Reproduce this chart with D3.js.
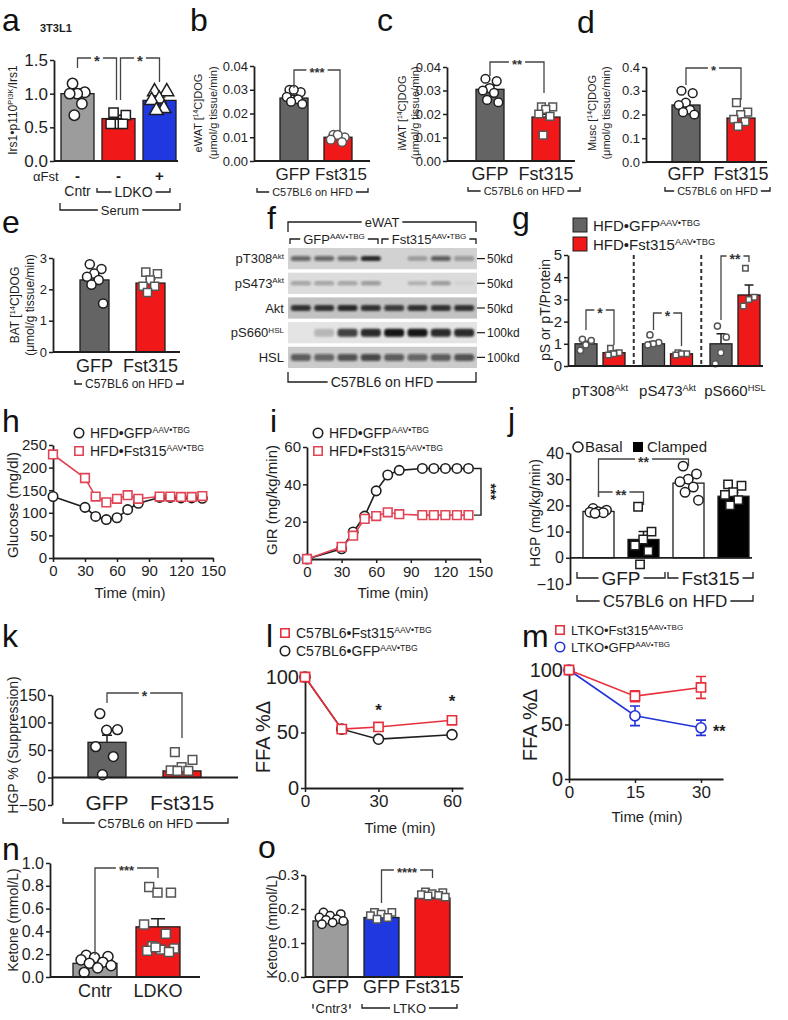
<!DOCTYPE html>
<html><head><meta charset="utf-8">
<script src="https://cdn.jsdelivr.net/npm/d3@7"></script>
<style>body{margin:0;background:#fff}svg{display:block}</style>
</head><body>
<script>
// ---------------- DATA ----------------
// a
const aCats = ["Cntr", "LDKO", "LDKO+αFst"];
const aFstRow = ["-", "-", "+"];
const aMeans = [1.0, 0.63, 0.90];
const aSems = [0.07, 0.05, 0.05];
const aPts = [[1.15, 1.02, 1.0, 1.0, 0.85, 0.68], [0.72, 0.68, 0.55, 0.55, 0.55], [1.03, 1.03, 0.92, 0.9, 0.78, 0.75]];
const aTicks = [0, 0.5, 1.0, 1.5];
// b, c, d, e
const gfpFst = ["GFP", "Fst315"];
const bMeans = [0.0265, 0.0100];
const bSems = [0.0012, 0.0008];
const bPts = [[0.030, 0.029, 0.030, 0.027, 0.026, 0.025, 0.024], [0.011, 0.010, 0.011, 0.009, 0.008]];
const bTicks = [0, 0.01, 0.02, 0.03, 0.04];
const cMeans = [0.0305, 0.0187];
const cSems = [0.0015, 0.0012];
const cPts = [[0.035, 0.034, 0.031, 0.030, 0.029, 0.026, 0.025], [0.023, 0.023, 0.022, 0.020, 0.019, 0.011]];
const cTicks = [0, 0.01, 0.02, 0.03, 0.04];
const dMeans = [0.24, 0.185];
const dSems = [0.015, 0.013];
const dPts = [[0.30, 0.29, 0.25, 0.24, 0.22, 0.21, 0.20], [0.25, 0.21, 0.20, 0.18, 0.17, 0.15]];
const dTicks = [0, 0.1, 0.2, 0.3, 0.4];
const eMeans = [2.3, 2.2];
const eSems = [0.15, 0.12];
const ePts = [[2.8, 2.65, 2.5, 2.4, 2.3, 2.15, 1.55], [2.55, 2.5, 2.3, 2.1, 2.1, 1.9]];
const eTicks = [0, 1, 2, 3];
// f (western blot)
const fRows = ["pT308{Akt}", "pS473{Akt}", "Akt", "pS660{HSL}", "HSL"];
const fMarkers = ["50kd", "50kd", "50kd", "100kd", "100kd"];
const fLanes = ["GFP1", "GFP2", "GFP3", "GFP4", "Fst1", "Fst2", "Fst3", "Fst4"];
const fIntensity = [
  [0.55, 0.55, 0.5, 0.9, 0.0, 0.25, 0.6, 0.3],
  [0.3, 0.3, 0.3, 0.35, 0.0, 0.2, 0.35, 0.05],
  [0.85, 0.85, 0.9, 0.85, 0.8, 0.85, 0.85, 0.85],
  [0.0, 0.2, 0.8, 0.9, 1.0, 1.0, 0.9, 0.9],
  [0.6, 0.55, 0.65, 0.7, 0.6, 0.55, 0.6, 0.65]
];
// g
const gGroups = ["pT308{Akt}", "pS473{Akt}", "pS660{HSL}"];
const gSeries = ["HFD•GFP{AAV•TBG}", "HFD•Fst315{AAV•TBG}"];
const gMeans = [[1.0, 0.6], [1.0, 0.55], [1.0, 3.2]];
const gSems = [[0.12, 0.1], [0.1, 0.08], [0.45, 0.45]];
const gPts = [[[1.2, 1.15, 0.95, 0.7], [0.8, 0.6, 0.55, 0.5]], [[1.4, 1.05, 1.0, 0.95], [0.6, 0.55, 0.55, 0.5]], [[1.8, 1.3, 0.6, 0.1], [4.4, 3.1, 3.0, 2.7]]];
const gTicks = [0, 1, 2, 3, 4, 5];
// h
const hTime = [0, 30, 40, 50, 60, 70, 80, 100, 110, 120, 130, 140];
const hGFP = [136, 112, 92, 85, 89, 107, 121, 134, 134, 133, 133, 132];
const hFst = [229, 177, 136, 123, 131, 139, 131, 136, 136, 135, 135, 137];
const hTicksY = [0, 50, 100, 150, 200, 250];
const timeTicks = [0, 30, 60, 90, 120, 150];
// i
const iTime = [0, 30, 40, 50, 60, 70, 80, 100, 110, 120, 130, 140];
const iGFP = [0, 5.5, 14.5, 23, 36.5, 45, 47.5, 48.5, 48.5, 48.5, 48.5, 48.5];
const iFst = [0, 6.5, 12.5, 21.5, 23, 25, 24, 23.5, 23.5, 23.5, 23.5, 23.5];
const iTicksY = [0, 20, 40, 60];
// j
const jKeys = ["GFP-Basal", "GFP-Clamped", "Fst315-Basal", "Fst315-Clamped"];
const jMeans = [17.7, 7.0, 28.5, 23.5];
const jSems = [0.4, 3.0, 1.5, 1.4];
const jPts = [[18.8, 18.2, 17.6, 17.4, 17.2, 17.0], [19.5, 10, 7, 4.7, 2.6, -2.5], [35, 32, 30, 29, 27, 25, 22], [28, 27.5, 25, 24, 22, 20]];
const jTicks = [-10, 0, 10, 20, 30, 40];
// k
const kMeans = [64, 12];
const kSems = [13, 6];
const kPts = [[116, 87, 86, 56, 38, 5], [46, 32, 19, 13, 12, 12]];
const kTicks = [-50, 0, 50, 100, 150];
// l
const lTime = [0, 15, 30, 60];
const lGFP = [100, 53, 44, 48];
const lFst = [100, 53, 55, 61];
// m
const mTime = [0, 15, 30];
const mFst = [100, 76, 84];
const mFstSem = [0, 5, 10];
const mGFP = [100, 58, 47];
const mGFPSem = [0, 9, 7];
const ffaTicks = [0, 50, 100];
// n
const nCats = ["Cntr", "LDKO"];
const nMeans = [0.12, 0.44];
const nSems = [0.015, 0.07];
const nPts = [[0.19, 0.18, 0.17, 0.15, 0.13, 0.12, 0.10, 0.08, 0.04], [0.79, 0.74, 0.74, 0.46, 0.38, 0.27, 0.25, 0.24, 0.23, 0.22, 0.26]];
const nTicks = [0, 0.2, 0.4, 0.6, 0.8, 1.0];
// o
const oKeys = ["Cntr3-GFP", "LTKO-GFP", "LTKO-Fst315"];
const oLabels = ["GFP", "GFP", "Fst315"];
const oMeans = [0.165, 0.175, 0.232];
const oSems = [0.004, 0.005, 0.004];
const oPts = [[0.19, 0.185, 0.18, 0.175, 0.17, 0.168, 0.165, 0.16, 0.155], [0.19, 0.19, 0.185, 0.18, 0.175, 0.17], [0.25, 0.248, 0.245, 0.242, 0.24, 0.238, 0.235]];
const oTicks = [0, 0.1, 0.2, 0.3];

// ---------------- HELPERS ----------------
const FONT = "'Liberation Sans', Arial, Helvetica, sans-serif";
const INK = "#1e1e1e";
const GRAY_D = "#646464", GRAY_L = "#9c9c9c", RED = "#f01818", BLUE = "#1f38e0", LRED = "#e04455";
const svg = d3.select("body").append("svg").attr("width", 788).attr("height", 1020);
svg.append("rect").attr("width", 788).attr("height", 1020).attr("fill", "#fff");
const defs = svg.append("defs");
defs.append("filter").attr("id", "blur").attr("x", "-20%").attr("y", "-50%").attr("width", "140%").attr("height", "200%")
  .append("feGaussianBlur").attr("stdDeviation", 1.1);

function rich(t, str) {
  const parts = str.split(/(\{[^}]*\})/).filter(s => s.length);
  let sup = false;
  parts.forEach(p => {
    if (p[0] === "{") {
      t.append("tspan").attr("font-size", "0.62em").attr("dy", "-0.55em").text(p.slice(1, -1));
      sup = true;
    } else {
      const s = t.append("tspan").text(p);
      if (sup) { s.attr("dy", "0.34em"); sup = false; }
    }
  });
}
function text(x, y, str, size, opt = {}) {
  const t = svg.append("text").attr("x", x).attr("y", y).attr("font-size", size)
    .attr("font-family", FONT).attr("fill", opt.fill || INK).attr("text-anchor", opt.anchor || "start");
  if (opt.weight) t.attr("font-weight", opt.weight);
  if (opt.rotate) t.attr("transform", `rotate(${opt.rotate} ${x} ${y})`);
  rich(t, str);
  return t;
}
function ylab(xc, cy, str, size) { return text(xc + size * 0.36, cy, str, size, { anchor: "middle", rotate: -90 }); }
function letter(x, y, s) { return text(x, y, s, 32, { fill: "#111" }); }
function styleAxis(g, size) {
  g.attr("font-family", FONT);
  g.select(".domain").attr("stroke", INK).attr("stroke-width", 1.8);
  g.selectAll(".tick line").attr("stroke", INK).attr("stroke-width", 1.5);
  g.selectAll(".tick text").attr("font-size", size).attr("font-family", FONT).attr("fill", INK);
}
function yAxis(x, scale, ticks, fmt, size) {
  const g = svg.append("g").attr("transform", `translate(${x},0)`)
    .call(d3.axisLeft(scale).tickValues(ticks).tickFormat(fmt).tickSize(4).tickSizeOuter(0).tickPadding(2));
  styleAxis(g, size); return g;
}
function xAxis(y, scale, ticks, fmt, size) {
  const g = svg.append("g").attr("transform", `translate(0,${y})`)
    .call(d3.axisBottom(scale).tickValues(ticks).tickFormat(fmt).tickSize(4).tickSizeOuter(0).tickPadding(3));
  styleAxis(g, size); return g;
}
function hline(x1, x2, y, w = 1.8) {
  svg.append("line").attr("x1", x1).attr("x2", x2).attr("y1", y).attr("y2", y).attr("stroke", INK).attr("stroke-width", w);
}
function bandAt(domain, firstLeft, width, step) {
  const pi = 1 - width / step;
  return d3.scaleBand().domain(domain).range([firstLeft, firstLeft + step * (domain.length - pi)]).paddingInner(pi).paddingOuter(0);
}
function spreadOffsets(n) { return d3.range(n).map(i => n === 1 ? 0 : (((i * 0.618034) + 0.25) % 1) - 0.5); }
function barSet(o) {
  const g = svg.append("g");
  const items = o.means.map((m, i) => ({ i, m, s: o.sems[i], x: o.x(i), fill: o.fills[i], pts: o.pts[i], shape: o.shapes[i], ps: (o.ptStroke || [])[i] || INK }));
  g.selectAll("rect").data(items).join("rect")
    .attr("x", d => d.x).attr("width", o.bw)
    .attr("y", d => o.y(Math.max(0, d.m))).attr("height", d => Math.abs(o.y(d.m) - o.y(0)))
    .attr("fill", d => d.fill).attr("stroke", INK).attr("stroke-width", 1.3);
  items.forEach(d => {
    const cx = d.x + o.bw / 2, y1 = o.y(d.m), y2 = o.y(d.m + d.s), cw = o.capW || 10;
    g.append("path").attr("d", `M${cx},${y1}V${y2}M${cx - cw / 2},${y2}H${cx + cw / 2}`)
      .attr("stroke", INK).attr("stroke-width", 1.5).attr("fill", "none");
    const off = spreadOffsets(d.pts.length);
    g.append("g").selectAll("path").data(d.pts).join("path")
      .attr("transform", (v, j) => `translate(${cx + off[j] * o.bw * (o.spread || 0.65)},${o.y(v)})`)
      .attr("d", d3.symbol().type(d.shape).size(o.ptSize || 60))
      .attr("fill", "#fff").attr("stroke", d.ps).attr("stroke-width", 1.5);
  });
}
function sig(x1, x2, yTop, yL, yR, label, size, opt = {}) {
  const cx = (x1 + x2) / 2;
  const t = svg.append("text").attr("x", cx).attr("y", yTop + size * 0.55).attr("text-anchor", "middle")
    .attr("font-size", size).attr("font-family", FONT).attr("font-weight", "bold").attr("fill", "#333").text(label);
  const w = t.node().getComputedTextLength();
  const p = d3.path();
  p.moveTo(x1, yL); p.lineTo(x1, yTop); p.lineTo(cx - w / 2 - 3, yTop);
  p.moveTo(cx + w / 2 + 3, yTop); p.lineTo(x2, yTop); p.lineTo(x2, yR);
  svg.append("path").attr("d", p.toString()).attr("fill", "none").attr("stroke", "#444").attr("stroke-width", 1.3);
}
function gbr(x1, x2, y, label, size, leg = 5, dir = -1, tcx) {
  const cx = tcx === undefined ? (x1 + x2) / 2 : tcx;
  const t = text(cx, y + size * 0.36, label, size, { anchor: "middle" });
  const w = t.node().getComputedTextLength();
  const p = d3.path();
  p.moveTo(x1, y + dir * leg); p.lineTo(x1, y); p.lineTo(cx - w / 2 - 3, y);
  p.moveTo(cx + w / 2 + 3, y); p.lineTo(x2, y); p.lineTo(x2, y + dir * leg);
  svg.append("path").attr("d", p.toString()).attr("fill", "none").attr("stroke", INK).attr("stroke-width", 1.3);
}
function series(x, y, t, v, color, shape, size, sem) {
  const line = d3.line().x((d, i) => x(t[i])).y(d => y(d));
  svg.append("path").datum(v).attr("d", line).attr("fill", "none").attr("stroke", color).attr("stroke-width", 1.6);
  if (sem) {
    svg.append("g").selectAll("path").data(v).join("path")
      .attr("d", (d, i) => sem[i] ? `M${x(t[i])},${y(d - sem[i])}V${y(d + sem[i])}M${x(t[i]) - 5},${y(d - sem[i])}h10M${x(t[i]) - 5},${y(d + sem[i])}h10` : "")
      .attr("stroke", color).attr("stroke-width", 1.6).attr("fill", "none");
  }
  svg.append("g").selectAll("path").data(v).join("path")
    .attr("transform", (d, i) => `translate(${x(t[i])},${y(d)})`)
    .attr("d", d3.symbol().type(shape).size(size))
    .attr("fill", "#fff").attr("stroke", color).attr("stroke-width", 1.6);
}
function legendItem(x, y, shape, color, str, size, fill = "#fff") {
  svg.append("path").attr("transform", `translate(${x},${y})`).attr("d", d3.symbol().type(shape).size(70))
    .attr("fill", fill).attr("stroke", color).attr("stroke-width", 1.6);
  text(x + 11, y + size * 0.36, str, size);
}
const CIR = d3.symbolCircle, SQ = d3.symbolSquare, TRI = d3.symbolTriangle;

// ---------------- PANEL a ----------------
{
  const y = d3.scaleLinear().domain([0, 1.5]).range([161, 60]);
  const band = bandAt(aCats, 61, 33, 41);
  const c = k => band(k) + band.bandwidth() / 2;
  barSet({ x: i => band(aCats[i]), bw: band.bandwidth(), y, means: aMeans, sems: aSems, fills: [GRAY_L, RED, BLUE], pts: aPts, shapes: [CIR, SQ, TRI], ptSize: 85, spread: 0.6, capW: 12 });
  yAxis(54, y, aTicks, d3.format(".1f"), 17);
  hline(54, 178, y(0));
  letter(2, 31, "a");
  text(40, 32, "3T3L1", 11, { weight: "bold" });
  ylab(13, 110, "Irs1•p110{PI3K}/Irs1", 12);
  sig(c(aCats[0]), c(aCats[1]) - 2, 58, 68, 100, "*", 15);
  sig(c(aCats[1]) + 2, c(aCats[2]), 58, 100, 82, "*", 15);
  text(33, 181, "αFst", 13);
  aFstRow.forEach((s, i) => text(c(aCats[i]), 181, s, 15, { anchor: "middle", weight: "bold" }));
  text(c(aCats[0]), 196, "Cntr", 14, { anchor: "middle" });
  gbr(97, 170, 192, "LDKO", 14, 4);
  gbr(60, 180, 210, "Serum", 13, 7);
}
// ---------------- PANEL b ----------------
{
  const y = d3.scaleLinear().domain([0, 0.04]).range([161, 66]);
  const band = bandAt(gfpFst, 280, 28, 44);
  const c = k => band(k) + band.bandwidth() / 2;
  barSet({ x: i => band(gfpFst[i]), bw: band.bandwidth(), y, means: bMeans, sems: bSems, fills: [GRAY_D, RED], pts: bPts, shapes: [CIR, CIR], ptSize: 60, ptStroke: [INK, "#555"] });
  yAxis(254, y, bTicks, d3.format(".2f"), 13);
  hline(254, 370, y(0));
  letter(190, 31, "b");
  ylab(198, 113, "eWAT [{14}C]DOG", 11);
  ylab(213, 113, "(μmol/g tissue/min)", 11);
  sig(c("GFP"), c("Fst315") + 2, 70, 88, 132, "***", 13);
  text(c("GFP") - 1, 180, "GFP", 17, { anchor: "middle" });
  text(c("Fst315") + 3, 180, "Fst315", 17, { anchor: "middle" });
  gbr(257, 368, 192, "C57BL6 on HFD", 11, 4);
}
// ---------------- PANEL c ----------------
{
  const y = d3.scaleLinear().domain([0, 0.04]).range([161, 67]);
  const band = bandAt(gfpFst, 476, 28, 56);
  const c = k => band(k) + band.bandwidth() / 2;
  barSet({ x: i => band(gfpFst[i]), bw: band.bandwidth(), y, means: cMeans, sems: cSems, fills: [GRAY_D, RED], pts: cPts, shapes: [CIR, SQ], ptSize: 60, ptStroke: [INK, "#555"] });
  yAxis(447, y, cTicks, d3.format(".2f"), 13);
  hline(447, 575, y(0));
  letter(377, 31, "c");
  ylab(402, 113, "iWAT [{14}C]DOG", 11);
  ylab(415, 113, "(μmol/g tissue/min)", 11);
  sig(c("GFP"), c("Fst315") - 2, 62, 76, 93, "**", 13);
  gfpFst.forEach(k => text(c(k), 180, k, 18, { anchor: "middle" }));
  gbr(468, 580, 191, "C57BL6 on HFD", 11, 4);
}
// ---------------- PANEL d ----------------
{
  const y = d3.scaleLinear().domain([0, 0.4]).range([162, 67]);
  const band = bandAt(gfpFst, 672, 28, 55);
  const c = k => band(k) + band.bandwidth() / 2;
  barSet({ x: i => band(gfpFst[i]), bw: band.bandwidth(), y, means: dMeans, sems: dSems, fills: [GRAY_D, RED], pts: dPts, shapes: [CIR, SQ], ptSize: 60, ptStroke: [INK, "#555"] });
  yAxis(646, y, dTicks, d3.format(".1f"), 13);
  hline(646, 767, y(0));
  letter(577, 33, "d");
  ylab(592, 113, "Musc [{14}C]DOG", 11);
  ylab(606, 113, "(μmol/g tissue/min)", 11);
  sig(c("GFP"), c("Fst315"), 68, 85, 100, "*", 13);
  gfpFst.forEach(k => text(c(k), 180, k, 18, { anchor: "middle" }));
  gbr(665, 770, 191, "C57BL6 on HFD", 11, 4);
}
// ---------------- PANEL e ----------------
{
  const y = d3.scaleLinear().domain([0, 3]).range([352, 258]);
  const band = bandAt(gfpFst, 80, 29, 56);
  const c = k => band(k) + band.bandwidth() / 2;
  barSet({ x: i => band(gfpFst[i]), bw: band.bandwidth(), y, means: eMeans, sems: eSems, fills: [GRAY_D, RED], pts: ePts, shapes: [CIR, SQ], ptSize: 65, ptStroke: [INK, "#555"] });
  yAxis(53, y, eTicks, d3.format("d"), 13);
  hline(53, 180, y(0));
  letter(2, 233, "e");
  ylab(15, 305, "BAT [{14}C]DOG", 12);
  ylab(30, 305, "(μmol/g tissue/min)", 12);
  gfpFst.forEach(k => text(c(k), 372, k, 18, { anchor: "middle" }));
  gbr(75, 183, 384, "C57BL6 on HFD", 12, 4);
}
// ---------------- PANEL f (blot) ----------------
{
  const lanes = d3.scaleBand().domain(fLanes).range([288, 477]).paddingInner(0.14).paddingOuter(0.12);
  const rows = d3.scaleBand().domain(fRows).range([248, 368]).paddingInner(0.14);
  const bgs = ["#d2d2d2", "#dcdcdc", "#c2c2c2", "#e4e4e4", "#cbcbcb"];
  const thick = [5, 4, 6, 8, 7];
  fRows.forEach((r, ri) => {
    svg.append("rect").attr("x", 288).attr("width", 189).attr("y", rows(r)).attr("height", rows.bandwidth()).attr("fill", bgs[ri]);
    const cy = rows(r) + rows.bandwidth() / 2;
    svg.append("g").attr("filter", "url(#blur)").selectAll("rect").data(fIntensity[ri]).join("rect")
      .attr("x", (d, li) => lanes(fLanes[li])).attr("width", lanes.bandwidth())
      .attr("y", cy - thick[ri] / 2).attr("height", thick[ri]).attr("rx", 3)
      .attr("fill", "#151515").attr("opacity", d => d);
    text(284, cy + 4.5, r, 13, { anchor: "end" });
    svg.append("line").attr("x1", 477).attr("x2", 485).attr("y1", cy).attr("y2", cy).attr("stroke", INK).attr("stroke-width", 1.2);
    text(487, cy + 4.5, fMarkers[ri], 12);
  });
  letter(267, 229, "f");
  gbr(288, 476, 222, "eWAT", 13, 10, 1, 382);
  gbr(290, 378, 239, "GFP{AAV•TBG}", 13, 5, 1);
  gbr(382, 476, 239, "Fst315{AAV•TBG}", 13, 5, 1);
  gbr(288, 476, 382, "C57BL6 on HFD", 14, 10, -1);
}
// ---------------- PANEL g ----------------
{
  const y = d3.scaleLinear().domain([0, 5]).range([366, 255]);
  const outer = bandAt(gGroups, 575, 50, 67.5);
  const inner = bandAt(gSeries, 0, 22, 28);
  gGroups.forEach((gk, gi) => {
    barSet({ x: i => outer(gk) + inner(gSeries[i]), bw: inner.bandwidth(), y, means: gMeans[gi], sems: gSems[gi], fills: [GRAY_D, RED], pts: gPts[gi], shapes: [CIR, SQ], ptSize: 30, ptStroke: ["#555", "#555"], capW: 9 });
    text(outer(gk) + 25, 396, gk, 15, { anchor: "middle" });
    if (gi > 0) {
      const xd = outer(gk) - (outer.step() - outer.bandwidth()) / 2;
      svg.append("line").attr("x1", xd).attr("x2", xd).attr("y1", 255).attr("y2", 366).attr("stroke", "#333").attr("stroke-width", 2).attr("stroke-dasharray", "4,3");
    }
  });
  yAxis(568, y, gTicks, d3.format("d"), 15);
  hline(568, 763, y(0));
  letter(512, 229, "g");
  ylab(545, 310, "pS or pT/Protein", 14);
  [GRAY_D, RED].forEach((col, i) => {
    svg.append("rect").attr("x", 573).attr("y", 218 + i * 19).attr("width", 14).attr("height", 14).attr("fill", col).attr("stroke", INK).attr("stroke-width", 1);
    text(593, 231 + i * 19, gSeries[i], 15);
  });
  const cx = (gi, si) => outer(gGroups[gi]) + inner(gSeries[si]) + 11;
  sig(cx(0, 0), cx(0, 1), 310, 330, 345, "*", 14);
  sig(cx(1, 0), cx(1, 1), 313, 330, 346, "*", 14);
  sig(cx(2, 0), cx(2, 1), 256, 320, 262, "**", 14);
}
// ---------------- PANEL h ----------------
{
  const x = d3.scaleLinear().domain([0, 150]).range([53, 213]);
  const y = d3.scaleLinear().domain([0, 250]).range([558, 445]);
  xAxis(558, x, timeTicks, d3.format("d"), 15);
  yAxis(53, y, hTicksY, d3.format("d"), 15);
  series(x, y, hTime, hGFP, INK, CIR, 70);
  series(x, y, hTime, hFst, LRED, SQ, 75);
  letter(2, 432, "h");
  legendItem(79, 433, CIR, INK, "HFD•GFP{AAV•TBG}", 14);
  legendItem(79, 451, SQ, LRED, "HFD•Fst315{AAV•TBG}", 14);
  ylab(13, 505, "Glucose (mg/dl)", 15);
  text(130, 598, "Time (min)", 15, { anchor: "middle" });
}
// ---------------- PANEL i ----------------
{
  const x = d3.scaleLinear().domain([0, 150]).range([307, 480]);
  const y = d3.scaleLinear().domain([0, 60]).range([559, 447]);
  xAxis(559, x, timeTicks, d3.format("d"), 15);
  yAxis(307, y, iTicksY, d3.format("d"), 15);
  series(x, y, iTime, iGFP, INK, CIR, 70);
  series(x, y, iTime, iFst, LRED, SQ, 75);
  letter(270, 432, "i");
  legendItem(318, 433, CIR, INK, "HFD•GFP{AAV•TBG}", 14);
  legendItem(318, 451, SQ, LRED, "HFD•Fst315{AAV•TBG}", 14);
  ylab(272, 500, "GIR (mg/kg/min)", 15);
  text(393, 598, "Time (min)", 15, { anchor: "middle" });
  const yb1 = y(48.5), yb2 = y(23.5);
  svg.append("path").attr("d", `M474,${yb1}H481V${yb2}H474`).attr("fill", "none").attr("stroke", INK).attr("stroke-width", 1.4);
  text(486, (yb1 + yb2) / 2, "***", 14, { anchor: "middle", rotate: 90, weight: "bold" });
}
// ---------------- PANEL j ----------------
{
  const y = d3.scaleLinear().domain([-10, 40]).range([584, 453]);
  const band = bandAt(jKeys, 583, 31, 45);
  const c = k => band(k) + band.bandwidth() / 2;
  barSet({ x: i => band(jKeys[i]), bw: band.bandwidth(), y, means: jMeans, sems: jSems, fills: ["#fff", "#000", "#fff", "#000"], pts: jPts, shapes: [CIR, SQ, CIR, SQ], ptSize: 70, spread: 0.7 });
  yAxis(570, y, jTicks, d3.format("d"), 16);
  hline(570, 752, y(0));
  letter(508, 430, "j");
  ylab(535, 513, "HGP (mg/kg/min)", 14);
  svg.append("circle").attr("cx", 578).attr("cy", 447).attr("r", 5).attr("fill", "#fff").attr("stroke", INK).attr("stroke-width", 1.5);
  text(585, 452, "Basal", 15);
  svg.append("rect").attr("x", 633).attr("y", 442).attr("width", 10).attr("height", 10).attr("fill", "#000");
  text(647, 452, "Clamped", 15);
  sig(c(jKeys[0]), c(jKeys[2]), 459, 497, 466, "**", 14);
  sig(c(jKeys[0]), c(jKeys[1]), 492, 497, 505, "**", 14);
  gbr(577, 665, 578, "GFP", 19, 6);
  gbr(668, 753, 578, "Fst315", 19, 6);
  gbr(577, 753, 601, "C57BL6 on HFD", 17, 6);
}
// ---------------- PANEL k ----------------
{
  const y = d3.scaleLinear().domain([-50, 150]).range([805, 695]);
  const band = bandAt(gfpFst, 88, 38, 75);
  const c = k => band(k) + band.bandwidth() / 2;
  barSet({ x: i => band(gfpFst[i]), bw: band.bandwidth(), y, means: kMeans, sems: kSems, fills: [GRAY_D, RED], pts: kPts, shapes: [CIR, SQ], ptSize: 75, ptStroke: [INK, "#555"], spread: 0.75 });
  yAxis(52, y, kTicks, d3.format("d"), 16);
  hline(52, 238, y(0));
  letter(2, 647, "k");
  ylab(13, 745, "HGP % (Suppression)", 14);
  sig(c("GFP"), c("Fst315"), 693, 703, 738, "*", 14);
  gfpFst.forEach(k => text(c(k), 810, k, 21, { anchor: "middle" }));
  gbr(63, 228, 823, "C57BL6 on HFD", 13, 5);
}
// ---------------- PANEL l ----------------
{
  const x = d3.scaleLinear().domain([0, 64.5]).range([305, 463]);
  const y = d3.scaleLinear().domain([0, 100]).range([788, 677]);
  xAxis(788, x, [0, 30, 60], d3.format("d"), 17);
  yAxis(305, y, ffaTicks, d3.format("d"), 20);
  series(x, y, lTime, lGFP, INK, CIR, 80);
  series(x, y, lTime, lFst, "#e8303c", SQ, 85);
  text(x(30), y(55) + 1 - 12, "*", 17, { anchor: "middle", weight: "bold" });
  text(x(60), y(61) + 1 - 14, "*", 17, { anchor: "middle", weight: "bold" });
  letter(266, 647, "l");
  legendItem(285, 633, SQ, "#e8303c", "C57BL6•Fst315{AAV•TBG}", 14);
  legendItem(285, 651, CIR, INK, "C57BL6•GFP{AAV•TBG}", 14);
  ylab(263, 737, "FFA %Δ", 20);
  text(400, 833, "Time (min)", 15, { anchor: "middle" });
}
// ---------------- PANEL m ----------------
{
  const x = d3.scaleLinear().domain([0, 35]).range([569, 723]);
  const y = d3.scaleLinear().domain([0, 100]).range([779, 670]);
  xAxis(779, x, mTime, d3.format("d"), 17);
  yAxis(569, y, ffaTicks, d3.format("d"), 20);
  series(x, y, mTime, mGFP, "#2233d8", CIR, 80, mGFPSem);
  series(x, y, mTime, mFst, "#e8303c", SQ, 85, mFstSem);
  text(x(30) + 12, y(47) + 9, "**", 16, { weight: "bold" });
  letter(522, 647, "m");
  legendItem(560, 630, SQ, "#e8303c", "LTKO•Fst315{AAV•TBG}", 13);
  legendItem(560, 647, CIR, "#2233d8", "LTKO•GFP{AAV•TBG}", 13);
  ylab(530, 725, "FFA %Δ", 20);
  text(647, 822, "Time (min)", 15, { anchor: "middle" });
}
// ---------------- PANEL n ----------------
{
  const y = d3.scaleLinear().domain([0, 1]).range([977, 863]);
  const band = bandAt(nCats, 73, 44, 63);
  const c = k => band(k) + band.bandwidth() / 2;
  barSet({ x: i => band(nCats[i]), bw: band.bandwidth(), y, means: nMeans, sems: nSems, fills: [GRAY_L, RED], pts: nPts, shapes: [CIR, SQ], ptSize: 80, ptStroke: [INK, "#555"], spread: 0.8, capW: 14 });
  yAxis(50, y, nTicks, d3.format(".1f"), 16);
  hline(50, 200, y(0));
  letter(2, 860, "n");
  ylab(13, 920, "Ketone (mmol/L)", 14);
  sig(c("Cntr"), c("LDKO"), 868, 955, 878, "***", 13);
  nCats.forEach(k => text(c(k), 997, k, 18, { anchor: "middle" }));
}
// ---------------- PANEL o ----------------
{
  const y = d3.scaleLinear().domain([0, 0.3]).range([977, 875]);
  const band = bandAt(oKeys, 313, 35, 51);
  const c = k => band(k) + band.bandwidth() / 2;
  barSet({ x: i => band(oKeys[i]), bw: band.bandwidth(), y, means: oMeans, sems: oSems, fills: [GRAY_L, BLUE, RED], pts: oPts, shapes: [CIR, SQ, SQ], ptSize: 55, ptStroke: [INK, "#555", "#555"], spread: 0.8 });
  yAxis(305, y, oTicks, d3.format(".1f"), 15);
  hline(305, 463, y(0));
  letter(258, 858, "o");
  ylab(272, 927, "Ketone (mmol/L)", 14);
  sig(c(oKeys[1]), c(oKeys[2]), 870, 903, 878, "****", 13);
  oKeys.forEach((k, i) => text(c(k), 993, oLabels[i], 18, { anchor: "middle" }));
  gbr(313, 350, 1008, "Cntr3", 13, 4);
  gbr(362, 457, 1008, "LTKO", 13, 4);
}
</script>
</body></html>
